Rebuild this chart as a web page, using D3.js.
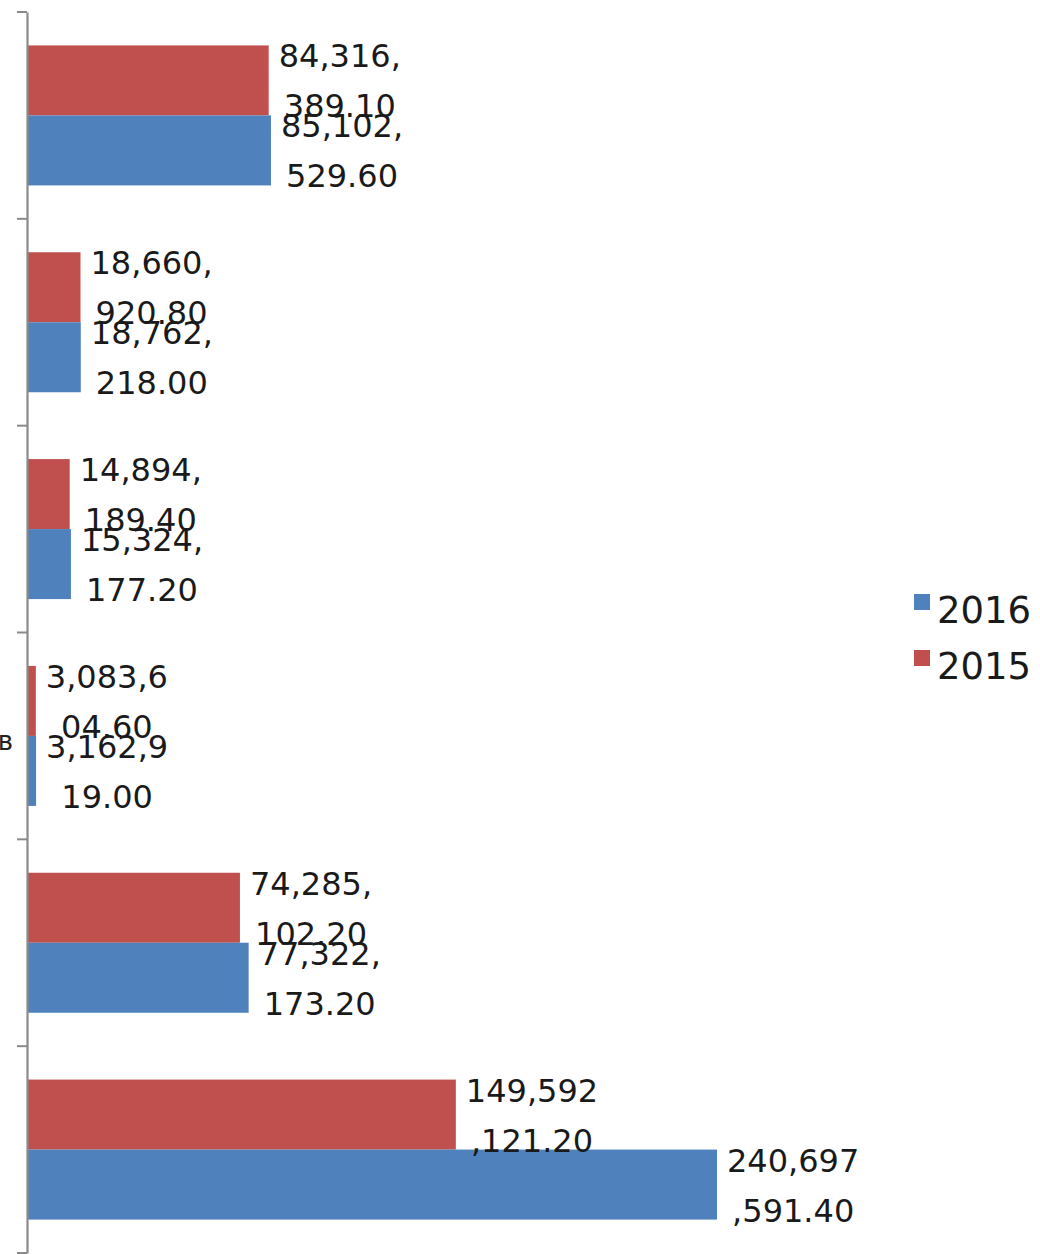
<!DOCTYPE html>
<html>
<head>
<meta charset="utf-8">
<script src="https://cdn.jsdelivr.net/npm/d3@7"></script>
<style>
  html, body { margin: 0; padding: 0; background: #fff; }
  svg { display: block; }
</style>
</head>
<body>
<script>
// Category names (only the tail of one is visible inside the plot frame)
const categories = ["c1", "c2", "c3", "c4", "c5", "c6"];
const categoryLabels = ["", "", "", "в", "", ""];
const series = ["2015", "2016"];
const values2015 = [84316389.10, 18660920.80, 14894189.40, 3083604.60, 74285102.20, 149592121.20];
const values2016 = [85102529.60, 18762218.00, 15324177.20, 3162919.00, 77322173.20, 240697591.40];
const colors = { "2015": "#C0504D", "2016": "#4F81BD" };
const legendOrder = ["2016", "2015"];

const W = 1040, H = 1254;
const svg = d3.select("body").append("svg").attr("width", W).attr("height", H);

const axisX = 27;
const x = d3.scaleLinear().domain([0, 240697591.40]).range([axisX, 717]);

const y0 = d3.scaleBand().domain(categories).range([12, 1253]).padding(0);
const step = y0.bandwidth();
const barH = 70;
const po = (step / barH - 2) / 2;
const y1 = d3.scaleBand().domain(series).range([0, step]).paddingInner(0).paddingOuter(po);

const rows = categories.map((c, i) => ({
  cat: c,
  label: categoryLabels[i],
  vals: [
    { s: "2015", v: values2015[i] },
    { s: "2016", v: values2016[i] }
  ]
}));

// bars
const g = svg.append("g");
const groups = g.selectAll("g.cat").data(rows).join("g")
  .attr("class", "cat")
  .attr("transform", d => `translate(0,${y0(d.cat)})`);

groups.selectAll("rect").data(d => d.vals).join("rect")
  .attr("x", x(0))
  .attr("y", d => y1(d.s))
  .attr("width", d => x(d.v) - x(0))
  .attr("height", y1.bandwidth())
  .attr("fill", d => colors[d.s]);

// value axis line and category ticks
const axis = d3.axisLeft(y0).tickSize(0).tickFormat("");
const axG = svg.append("g").attr("transform", `translate(${axisX},0)`).call(axis);
axG.select(".domain").attr("stroke", "#8a8a8a").attr("stroke-width", 2.2);
const boundaries = categories.map(c => y0(c)).concat([y0.range()[1]]);
svg.append("g").selectAll("line").data(boundaries).join("line")
  .attr("x1", axisX - 10).attr("x2", axisX)
  .attr("y1", d => d).attr("y2", d => d)
  .attr("stroke", "#8a8a8a").attr("stroke-width", 2);

// category label fragments
svg.append("g").selectAll("text").data(rows).join("text")
  .attr("x", 13)
  .attr("y", d => y0(d.cat) + step / 2 + 14)
  .attr("text-anchor", "end")
  .attr("font-family", "DejaVu Sans, sans-serif")
  .attr("font-size", 26)
  .attr("fill", "#222")
  .text(d => d.label);

// data labels, wrapped after seven characters and centred as a block
const fmt = d3.format(",.2f");
const lab = groups.selectAll("g.lab").data(d => d.vals).join("g").attr("class", "lab");
lab.each(function(d) {
  const s = fmt(d.v);
  const lines = [s.slice(0, 7), s.slice(7)];
  const cy = y1(d.s) + y1.bandwidth() / 2;
  const t = d3.select(this).append("text")
    .attr("font-family", "DejaVu Sans, sans-serif")
    .attr("font-size", 32)
    .attr("fill", "#1a1a1a")
    .attr("text-anchor", "middle");
  const spans = t.selectAll("tspan").data(lines).join("tspan")
    .attr("y", (l, i) => cy - 13 + i * 50)
    .text(l => l);
  let wmax = 0;
  spans.each(function() { wmax = Math.max(wmax, this.getComputedTextLength()); });
  spans.attr("x", x(d.v) + 10 + wmax / 2);
});

// legend
const lg = svg.append("g");
const li = lg.selectAll("g").data(legendOrder).join("g")
  .attr("transform", (d, i) => `translate(914,${594 + i * 56})`);
li.append("rect").attr("width", 16).attr("height", 16).attr("fill", d => colors[d]);
li.append("text")
  .attr("x", 23).attr("y", 29)
  .attr("font-family", "DejaVu Sans, sans-serif")
  .attr("font-size", 37)
  .attr("fill", "#1a1a1a")
  .text(d => d);
</script>
</body>
</html>
